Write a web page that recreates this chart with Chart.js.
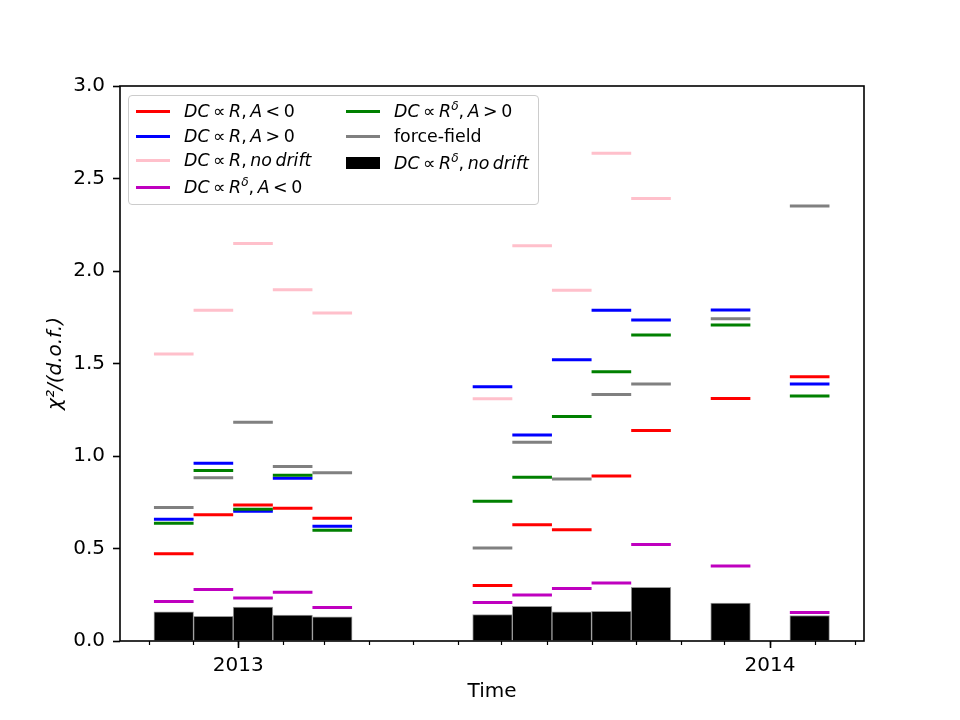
<!DOCTYPE html>
<html><head><meta charset="utf-8">
<script src="https://cdn.jsdelivr.net/npm/chart.js@4.4.0/dist/chart.umd.min.js"></script>
<style>
html,body{margin:0;padding:0;background:#fff;}
#wrap{position:relative;width:960px;height:720px;}
#legend{position:absolute;left:128px;top:95px;width:411px;height:110px;box-sizing:border-box;border:1px solid #cccccc;border-radius:4px;background:rgba(255,255,255,0.8);font-family:"DejaVu Sans";font-size:17.4px;color:#000;}
.item{position:absolute;display:flex;align-items:center;white-space:nowrap;height:24px;}
.handle{display:inline-block;width:34px;margin-right:14px;}
.lab{word-spacing:-2px;}
.lab sup{font-size:0.7em;vertical-align:0.55em;line-height:0;}
</style></head><body>
<div id="wrap"><canvas id="chart" width="960" height="720"></canvas><div id="legend"></div></div>
<script>
const ORIGIN = Date.UTC(2013, 0, 1);
const dayOf = (y, m, d) => (Date.UTC(y, m, d) - ORIGIN) / 86400000;

// ---- data ----
// start of each averaging period, in days since 2013-01-01
const periodStart = [-57.9, -30.7, -3.5, 23.7, 50.9, 160.9, 188.1, 215.3, 242.5, 269.7, 324.3, 378.6];
const periodLength = 27.2; // days
const seriesLabels = [
  '<i>DC</i> ∝ <i>R</i>, <i>A</i> &lt; 0',
  '<i>DC</i> ∝ <i>R</i>, <i>A</i> &gt; 0',
  '<i>DC</i> ∝ <i>R</i>, <i>no drift</i>',
  '<i>DC</i> ∝ <i>R</i><sup><i>δ</i></sup>, <i>A</i> &lt; 0',
  '<i>DC</i> ∝ <i>R</i><sup><i>δ</i></sup>, <i>A</i> &gt; 0',
  'force-field',
  '<i>DC</i> ∝ <i>R</i><sup><i>δ</i></sup>, <i>no drift</i>'
];
const rigidityAneg   = [0.472, 0.683, 0.735, 0.717, 0.663, 0.300, 0.629, 0.602, 0.892, 1.138, 1.311, 1.428];
const rigidityApos   = [0.658, 0.961, 0.701, 0.880, 0.620, 1.374, 1.113, 1.520, 1.788, 1.735, 1.789, 1.389];
const rigidityNoDrift= [1.551, 1.788, 2.148, 1.899, 1.773, 1.309, 2.136, 1.896, 2.636, 2.392, null, null];
const deltaAneg      = [0.214, 0.279, 0.232, 0.263, 0.181, 0.208, 0.248, 0.284, 0.313, 0.521, 0.405, 0.154];
const deltaApos      = [0.636, 0.921, 0.712, 0.896, 0.598, 0.755, 0.885, 1.214, 1.455, 1.654, 1.708, 1.324];
const forceField     = [0.721, 0.883, 1.183, 0.943, 0.909, 0.503, 1.075, 0.876, 1.333, 1.389, 1.742, 2.352];
const deltaNoDrift   = [0.158, 0.133, 0.183, 0.140, 0.131, 0.143, 0.187, 0.158, 0.161, 0.290, 0.205, 0.138];
const yearTickLabels = ['2013', '2014'];

// ---- styles ----
const lineSeries = [rigidityAneg, rigidityApos, rigidityNoDrift, deltaAneg, deltaApos, forceField];
const lineColors = ['#ff0000', '#0000ff', '#ffc0cb', '#bf00bf', '#008000', '#808080'];
const barColor = '#000000';
const xMin = -81.2, xMax = 429.5;
const FONT = 'DejaVu Sans';

const monthTicks = [];
for (let y = 2012; y <= 2014; y++) for (let m = 0; m < 12; m++) {
  const d = dayOf(y, m, 1);
  if (d >= xMin && d <= xMax) monthTicks.push(d);
}

function segments(vals) {
  const pts = [];
  vals.forEach((v, i) => {
    if (v == null) return;
    const s = periodStart[i], e = s + periodLength;
    pts.push({x: s, y: v}, {x: e, y: v}, {x: e, y: null});
  });
  return pts;
}

const datasets = lineSeries.map((vals, k) => ({
  type: 'line', label: seriesLabels[k], data: segments(vals),
  borderColor: lineColors[k], backgroundColor: lineColors[k],
  borderWidth: 3, pointRadius: 0, pointHoverRadius: 0, spanGaps: false, fill: false,
  tension: 0, borderCapStyle: 'butt', order: 10 - k, xAxisID: 'x', yAxisID: 'y'
}));
datasets.push({
  type: 'bar', label: seriesLabels[6],
  data: periodStart.map((s, i) => ({x: s + periodLength / 2, y: deltaNoDrift[i]})),
  backgroundColor: barColor, borderColor: '#9a9a9a', borderWidth: 1,
  categoryPercentage: 1, barPercentage: 1, grouped: false, order: 20, xAxisID: 'x', yAxisID: 'y'
});

const framePlugin = {
  id: 'frame',
  afterDatasetsDraw(chart) {
    const {ctx, chartArea: a} = chart;
    ctx.save(); ctx.strokeStyle = '#000'; ctx.lineWidth = 1.6;
    ctx.strokeRect(a.left, a.top, a.right - a.left, a.bottom - a.top);
    ctx.restore();
  }
};

const chart = new Chart(document.getElementById('chart'), {
  type: 'line',
  data: {datasets},
  options: {
    responsive: false, animation: false, devicePixelRatio: 1,
    layout: {padding: {left: 0, top: 86, right: 96, bottom: 0}},
    plugins: {legend: {display: false}, tooltip: {enabled: false}},
    scales: {
      x: {
        type: 'linear', position: 'bottom', weight: 1, min: xMin, max: xMax, offset: false,
        afterBuildTicks: s => { s.ticks = yearTickLabels.map(y => ({value: dayOf(+y, 0, 1)})); },
        afterFit: s => { s.height = 79; },
        ticks: {autoSkip: false, maxRotation: 0, padding: 6, color: '#000', font: {family: FONT, size: 20},
          callback: v => { const i = yearTickLabels.findIndex(y => dayOf(+y, 0, 1) === v); return i >= 0 ? yearTickLabels[i] : ''; }},
        grid: {drawOnChartArea: false, drawTicks: true, tickLength: 7, tickColor: '#000', tickWidth: 1.6, offset: false},
        border: {display: false},
        title: {display: true, text: 'Time', color: '#000', font: {family: FONT, size: 20}, padding: {top: 0, bottom: 16}}
      },
      x2: {
        type: 'linear', position: 'bottom', weight: 0, min: xMin, max: xMax, offset: false,
        afterBuildTicks: s => { s.ticks = monthTicks.map(v => ({value: v})); },
        afterFit: s => { s.height = 0; },
        ticks: {display: false},
        grid: {drawOnChartArea: false, drawTicks: true, tickLength: 4, tickColor: '#000', tickWidth: 1.2, offset: false},
        border: {display: false}
      },
      y: {
        type: 'linear', position: 'left', min: 0, max: 3,
        afterFit: s => { s.width = 120; },
        ticks: {stepSize: 0.5, padding: 8, color: '#000', font: {family: FONT, size: 20}, callback: v => Number(v).toFixed(1)},
        grid: {drawOnChartArea: false, drawTicks: true, tickLength: 7, tickColor: '#000', tickWidth: 1.6},
        border: {display: false},
        title: {display: true, text: 'χ²/(d.o.f.)', color: '#000', font: {family: FONT, size: 20, style: 'italic'}, padding: {top: 44, bottom: 0}}
      }
    }
  },
  plugins: [framePlugin]
});

// ---- HTML legend (two columns, like the original) ----
const legendCols = [[0, 1, 2, 3], [4, 5, 6]];
const colLeft = [7, 217];
const rowCenter = [[15, 40, 64, 91], [15, 40, 67]];
const legendEl = document.getElementById('legend');
legendCols.forEach((col, c) => col.forEach((di, r) => {
  const ds = chart.data.datasets[di];
  const item = document.createElement('div');
  item.className = 'item';
  item.style.left = colLeft[c] + 'px';
  item.style.top = (rowCenter[c][r] - 12) + 'px';
  const h = document.createElement('span');
  h.className = 'handle';
  if (ds.type === 'bar') { h.style.height = '12px'; h.style.background = ds.backgroundColor; }
  else { h.style.height = '3px'; h.style.background = ds.borderColor; }
  const t = document.createElement('span');
  t.className = 'lab';
  t.innerHTML = ds.label;
  item.appendChild(h); item.appendChild(t);
  legendEl.appendChild(item);
}));
</script></body></html>
